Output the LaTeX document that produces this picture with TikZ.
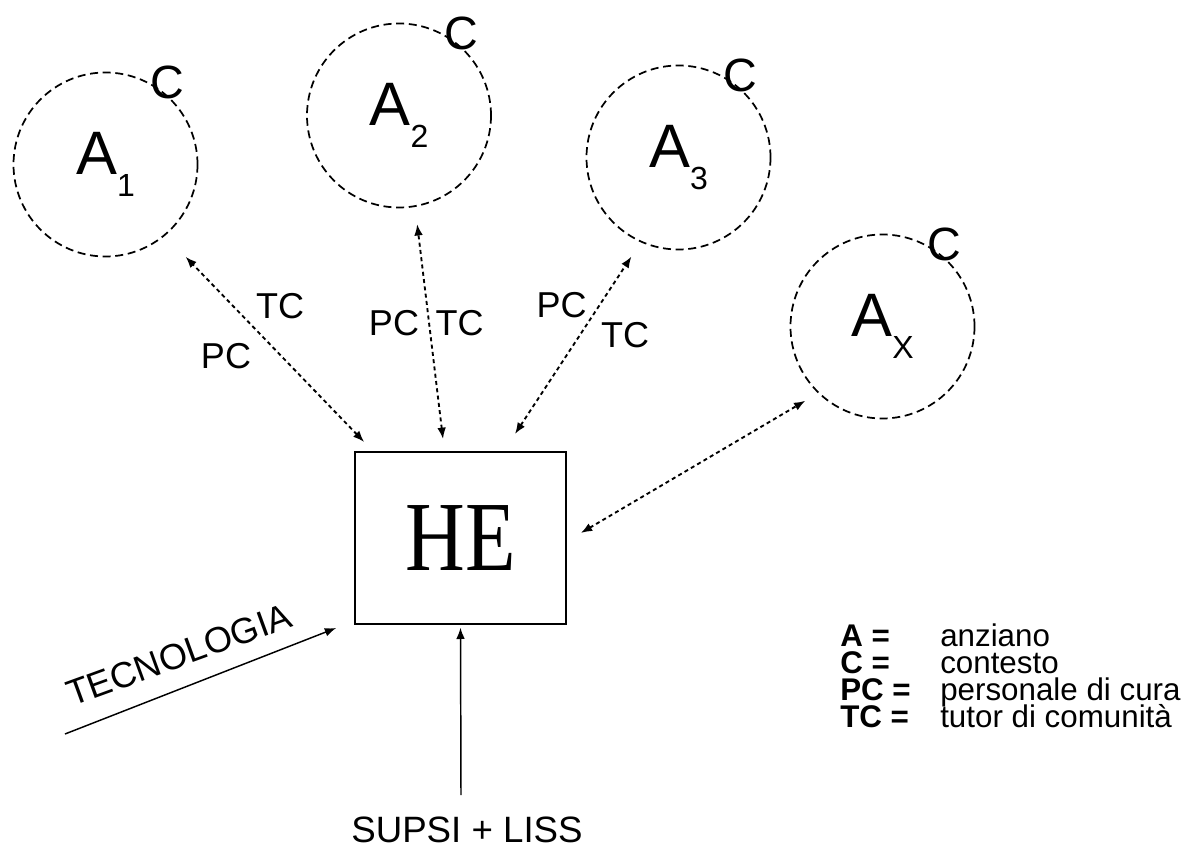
\documentclass[tikz,border=0pt]{standalone}
\usepackage{fontspec}
\setmainfont{Liberation Sans}
\newfontfamily\heserif{Liberation Serif}
\usetikzlibrary{arrows.meta}

\newcommand{\elsub}[1]{\raisebox{-16.5pt}{\fontsize{24}{24}\selectfont #1}}

\begin{document}
\begin{tikzpicture}[x=0.75pt, y=-0.75pt,
  elder/.style={circle, draw, line width=1.3pt, dash pattern=on 6pt off 3.5pt,
    minimum size=138pt, inner sep=0pt, font=\fontsize{46}{46}\selectfont},
  ctx/.style={inner sep=0pt, font=\fontsize{35}{35}\selectfont},
  hub/.style={draw, line width=1.5pt, minimum width=158pt, minimum height=129pt, inner sep=0pt},
  link/.style={{Latex[length=8.5pt,width=6.5pt]}-{Latex[length=8.5pt,width=6.5pt]},
    line width=1.4pt, dash pattern=on 3pt off 2.5pt},
  feed/.style={-{Latex[length=8.5pt,width=6.5pt]}, line width=1.1pt},
  tag/.style={inner sep=0pt, font=\fontsize{27}{27}\selectfont},
  key/.style={anchor=base west, inner sep=0pt, font=\fontsize{23.5}{23.5}\selectfont}]
  \useasboundingbox (0,0) rectangle (1193,848);

  % anziani con il loro contesto
  \node[elder] (a1) at (105.5,164.5) {A\elsub{1}};
  \node[elder] (a2) at (399,115.5) {A\elsub{2}};
  \node[elder] (a3) at (678.5,157.5) {A\elsub{3}};
  \node[elder] (ax) at (882.5,326.5) {A\elsub{X}};
  \foreach \n in {a1,a2,a3,ax}
    \node[ctx] (c\n) at ([shift={(53:7.5pt)}]\n.53) {C};

  \node[hub] (he) at (460.5,538) {\heserif\fontsize{62}{62}\selectfont\scalebox{1}[1.2]{HE}};

  % collegamenti
  \draw[link, shorten >=22pt] ([shift={(10,-9)}]he.north west) -- (a1.-50);
  \draw[link, shorten >=13pt] ([shift={(-17.5,-12)}]he.north) -- (a2.-80);
  \draw[link, shorten >=12.75pt] ([shift={(54.5,-17)}]he.north) -- (a3.-114);
  \draw[link, shorten >=11pt] ([shift={(14,-5)}]he.east) -- (ax.-134);

  \node[tag] (tc1) at (280,306.5) {TC};
  \node[tag] (pc1) at (226,356.5) {PC};
  \node[tag] (pc2) at (394,323.5) {PC};
  \node[tag] (tc2) at (459.5,323.5) {TC};
  \node[tag] (pc3) at (561.5,305) {PC};
  \node[tag] (tc3) at (625,335) {TC};

  % ingressi
  \coordinate (tecfoot) at (65,734);
  \draw[feed] (tecfoot) -- ([shift={(-18,3)}]he.south west);
  \node[tag, font=\fontsize{27}{27}\selectfont, rotate=20, anchor=base west] (tec) at (72,707) {TECNOLOGIA};

  \coordinate (supsifoot) at (461,795);
  \draw[feed] (supsifoot) -- ([yshift=-2pt]he.south);
  \node[tag, font=\fontsize{27.5}{27.5}\selectfont] (supsi) at (467,830) {SUPSI + LISS};

  % legenda
  \foreach \k/\d [count=\i] in {A/anziano, C/contesto, PC/personale di cura, TC/tutor di comunità} {
    \node[key] (key\i) at (840,619+27*\i) {\textbf{\k\ =}};
    \node[key] (desc\i) at (940,619+27*\i) {\d};
  }
\end{tikzpicture}
\end{document}
